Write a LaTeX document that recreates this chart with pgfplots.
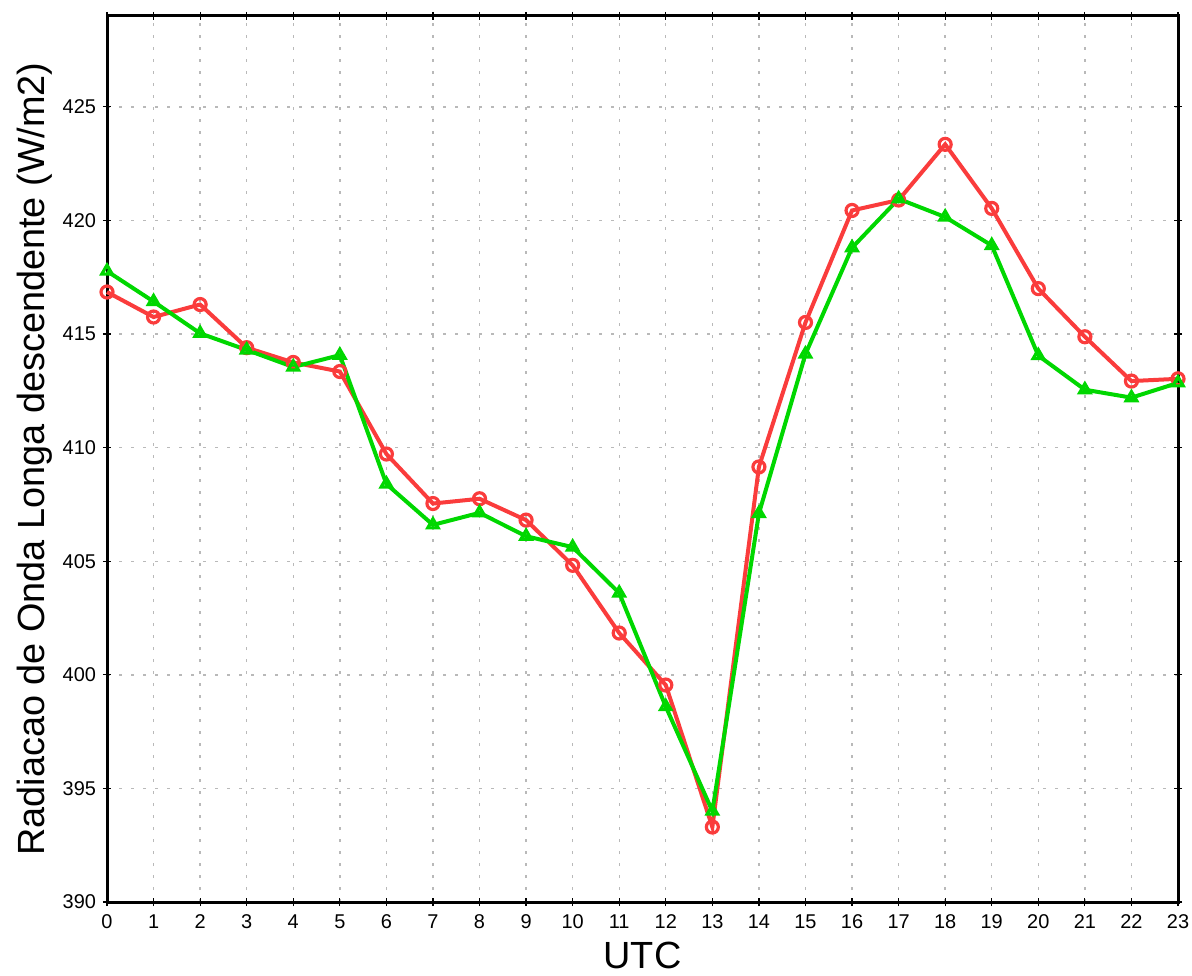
\documentclass[border=0pt]{standalone}
\usepackage{pgfplots}
\pgfplotsset{compat=1.18}
\usetikzlibrary{calc}
\usepackage{fontspec}
\setmainfont{Liberation Sans}
\definecolor{gred}{RGB}{250,60,60}
\definecolor{ggreen}{RGB}{0,215,0}
\begin{document}
\begin{tikzpicture}
\begin{axis}[
  scale only axis,
  width=535.5bp, height=443bp,
  xmin=0, xmax=23, ymin=390, ymax=429,
  xtick={0,...,23},
  ytick={390,395,400,405,410,415,420,425},
  /pgf/number format/assume math mode=true,
  ticklabel style={font=\fontsize{10}{12}\selectfont},
  xticklabel style={yshift=-1bp},
  axis line style={line width=1.5bp, black},
  tick style={black, line width=0.6bp},
  major tick length=4bp,
  tick align=center,
  grid=major,
  major grid style={gray!55, line width=0.7bp, dash pattern=on 1.5bp off 4.5bp},
  xlabel={UTC},
  ylabel={Radiacao de Onda Longa descendente (W/m2)},
  label style={font=\fontsize{19}{22}\selectfont},
  xlabel style={at={(axis description cs:0.5,0)}, anchor=north, yshift=-16.5bp},
  ylabel style={at={(axis description cs:0,0.5)}, anchor=south, yshift=24bp},
  clip=false,
]
\addplot[color=gred, line width=2bp, mark=o, mark size=3bp, mark options={line width=1.6bp}] coordinates {
(0,416.85) (1,415.75) (2,416.30) (3,414.40) (4,413.75) (5,413.35)
(6,409.72) (7,407.54) (8,407.75) (9,406.81) (10,404.82) (11,401.84)
(12,399.55) (13,393.30) (14,409.15) (15,415.51) (16,420.44) (17,420.90)
(18,423.35) (19,420.53) (20,417.00) (21,414.88) (22,412.93) (23,413.03)
};
\addplot[color=ggreen, line width=2bp, mark=triangle, mark size=3bp, mark options={line width=1.6bp}] coordinates {
(0,417.77) (1,416.43) (2,415.03) (3,414.30) (4,413.55) (5,414.07)
(6,408.40) (7,406.60) (8,407.13) (9,406.10) (10,405.62) (11,403.60)
(12,398.60) (13,394.00) (14,407.10) (15,414.12) (16,418.80) (17,420.95)
(18,420.15) (19,418.90) (20,414.05) (21,412.55) (22,412.20) (23,412.85)
};
\end{axis}
\pgfresetboundingbox
\useasboundingbox ($(current axis.south west)+(-53.5bp,-37bp)$) rectangle ($(current axis.north east)+(7bp,8bp)$);
\end{tikzpicture}
\end{document}
